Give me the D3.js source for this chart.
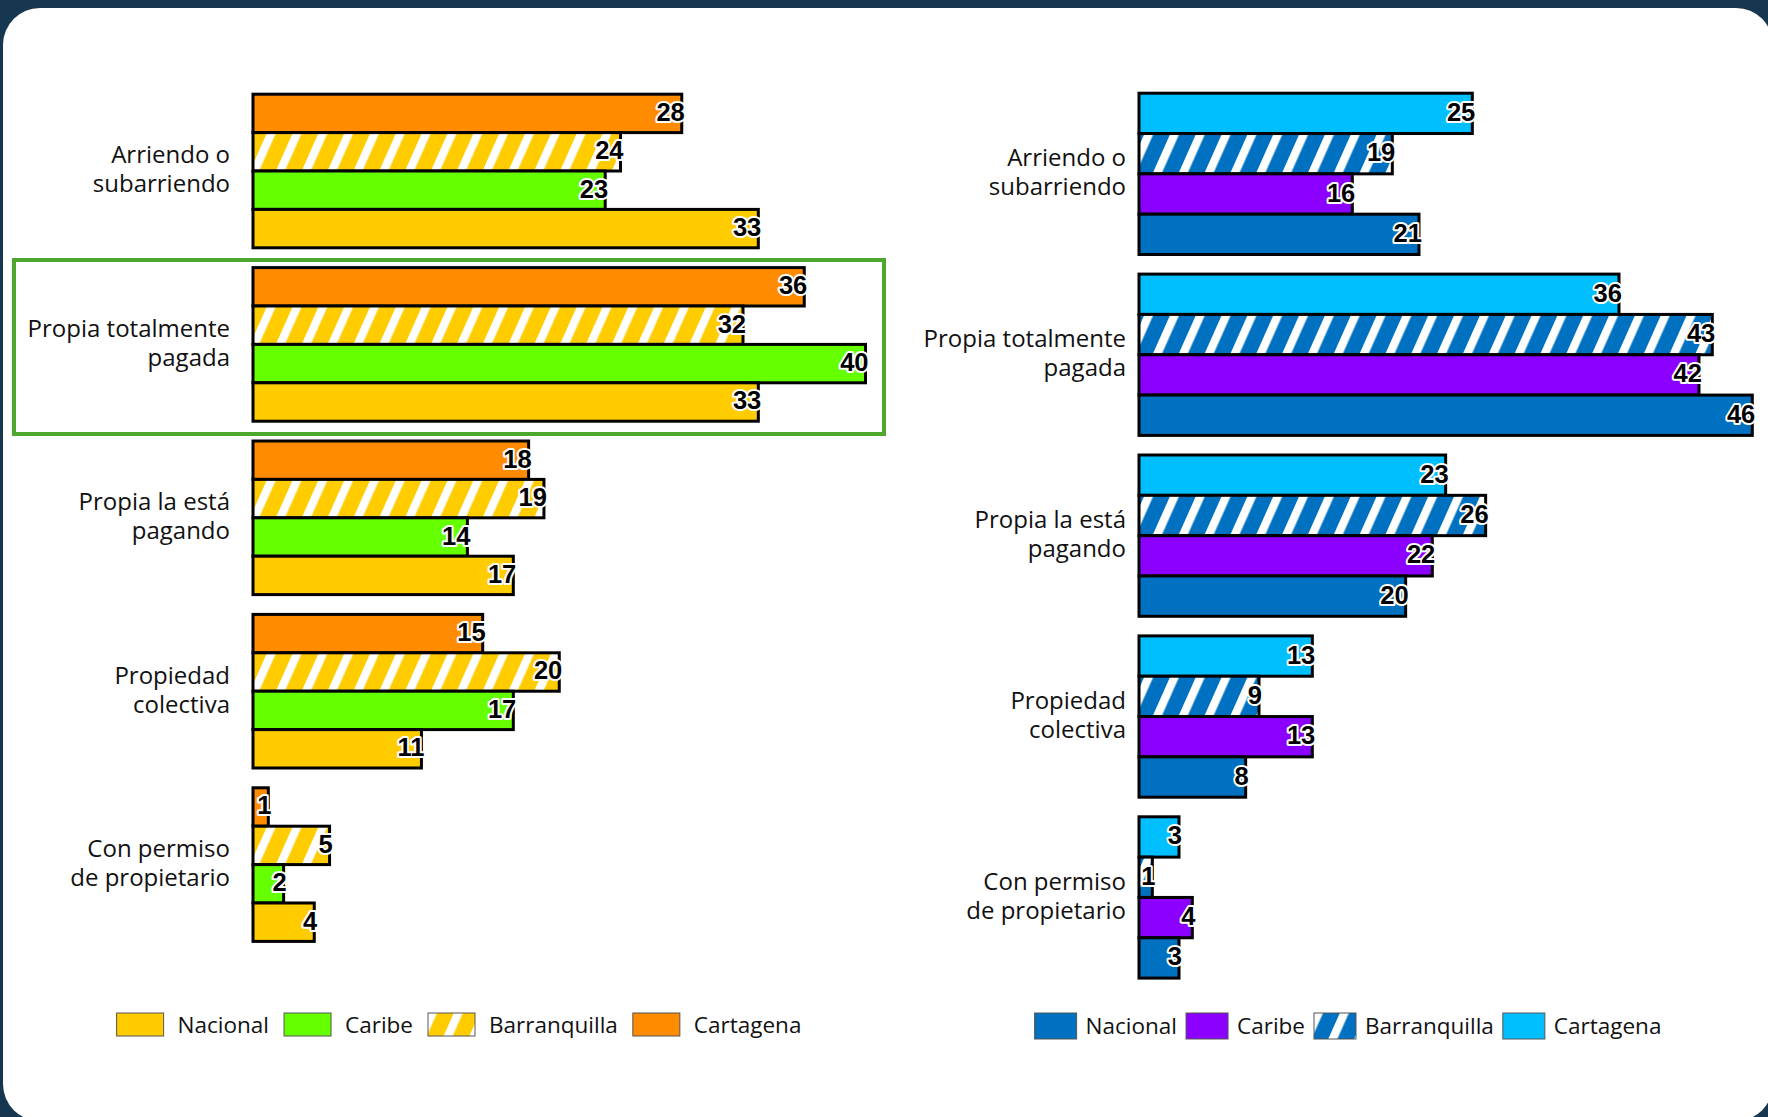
<!DOCTYPE html>
<html><head><meta charset="utf-8">
<script src="https://cdn.jsdelivr.net/npm/d3@7"></script>
<style>
html,body{margin:0;padding:0;background:#17364f;overflow:hidden;}
svg{display:block;}
</style></head><body>
<svg id="c" width="1768" height="1117"></svg>
<script>
// ---------- DATA ----------
const categories = ["Arriendo o subarriendo","Propia totalmente pagada","Propia la está pagando","Propiedad colectiva","Con permiso de propietario"];
const categoryLines = [["Arriendo o","subarriendo"],["Propia totalmente","pagada"],["Propia la está","pagando"],["Propiedad","colectiva"],["Con permiso","de propietario"]];
const seriesNames = ["Nacional","Caribe","Barranquilla","Cartagena"];
const barOrder = ["Cartagena","Barranquilla","Caribe","Nacional"]; // top to bottom inside a group

const leftNacional      = [33,33,17,11,4];
const leftCaribe        = [23,40,14,17,2];
const leftBarranquilla  = [24,32,19,20,5];
const leftCartagena     = [28,36,18,15,1];

const rightNacional     = [21,46,20,8,3];
const rightCaribe       = [16,42,22,13,4];
const rightBarranquilla = [19,43,26,9,1];
const rightCartagena    = [25,36,23,13,3];

const leftColors  = {Nacional:"#FFCC00", Caribe:"#66FF00", Barranquilla:"#FFCC00", Cartagena:"#FF8C00"};
const rightColors = {Nacional:"#0070C0", Caribe:"#8B00FF", Barranquilla:"#0070C0", Cartagena:"#00BFFF"};
const highlighted = "Propia totalmente pagada";

// ---------- SETUP ----------
const svg = d3.select("#c");
const defs = svg.append("defs");
svg.append("rect").attr("x",3).attr("y",8).attr("width",1770).attr("height",1113)
  .attr("rx",37).attr("ry",37).attr("fill","#ffffff");

function makePattern(id, color){
  const s = 23.6;
  const p = defs.append("pattern").attr("id",id).attr("patternUnits","userSpaceOnUse")
    .attr("width",s).attr("height",s).attr("patternTransform","rotate(24)");
  p.append("rect").attr("width",s).attr("height",s).attr("fill",color);
  p.append("rect").attr("x",0).attr("width",8.3).attr("height",s).attr("fill","#ffffff");
}
makePattern("hatchY", leftColors.Barranquilla);
makePattern("hatchB", rightColors.Barranquilla);

const labelFont = "'Open Sans', 'DejaVu Sans', sans-serif";
const valueFont = "'Liberation Sans', Arial, sans-serif";

function build(series) {
  return categories.map((c,i)=>({cat:c, lines:categoryLines[i],
    values: seriesNames.map(s=>({series:s, value:series[s][i]}))}));
}

const panels = [
  {data: build({Nacional:leftNacional, Caribe:leftCaribe, Barranquilla:leftBarranquilla, Cartagena:leftCartagena}),
   colors:leftColors, hatch:"hatchY", x0:253, w:612.5, top:94.2, step:173.4, bw:153.6,
   labelX:230, legendCx:459, legendY:1013, swW:47, swH:23, gapT:14, gapI:15, box:true},
  {data: build({Nacional:rightNacional, Caribe:rightCaribe, Barranquilla:rightBarranquilla, Cartagena:rightCartagena}),
   colors:rightColors, hatch:"hatchB", x0:1139, w:613.3, top:93.2, step:180.9, bw:161.3,
   labelX:1126, legendCx:1348, legendY:1013, swW:42, swH:26, gapT:9, gapI:9, box:false}
];

function fillOf(p, s){ return s==="Barranquilla" ? `url(#${p.hatch})` : p.colors[s]; }

panels.forEach(p=>{
  const maxV = d3.max(p.data, d=>d3.max(d.values, v=>v.value));
  const x = d3.scaleLinear().domain([0,maxV]).range([p.x0, p.x0+p.w]);
  const y = d3.scaleBand().domain(categories)
    .range([p.top, p.top + 4*p.step + p.bw]).paddingInner((p.step-p.bw)/p.step).paddingOuter(0);
  const yi = d3.scaleBand().domain(barOrder).range([0, y.bandwidth()]).padding(0);

  const g = svg.append("g");

  if (p.box) {
    g.append("rect").attr("x",14).attr("y", y(highlighted)-7.6)
      .attr("width", 884-14).attr("height", y.bandwidth()+20.4)
      .attr("fill","none").attr("stroke","#4EA72E").attr("stroke-width",4);
  }

  const groups = g.selectAll("g.grp").data(p.data).join("g")
    .attr("transform", d=>`translate(0,${y(d.cat)})`);

  groups.selectAll("rect.bar").data(d=>barOrder.map(s=>d.values.find(v=>v.series===s))).join("rect")
    .attr("x", x(0)).attr("y", d=>yi(d.series))
    .attr("width", d=>x(d.value)-x(0)).attr("height", yi.bandwidth())
    .attr("fill", d=>fillOf(p,d.series)).attr("stroke","#000").attr("stroke-width",3);

  groups.selectAll("text.val").data(d=>barOrder.map(s=>d.values.find(v=>v.series===s))).join("text")
    .attr("x", d=>x(d.value)+3).attr("y", d=>yi(d.series)+yi.bandwidth()/2+7.5)
    .attr("text-anchor","end").attr("font-family",valueFont).attr("font-weight","bold")
    .attr("font-size",25.5).attr("fill","#000").attr("stroke","#fff").attr("stroke-width",4)
    .attr("stroke-linejoin","round").attr("paint-order","stroke").text(d=>d.value);

  // category labels
  groups.append("text").attr("text-anchor","end").attr("font-family",labelFont)
    .attr("font-size",24).attr("fill","#111")
    .each(function(d){
      const t = d3.select(this);
      d.lines.forEach((ln,k)=>{
        t.append("tspan").attr("x",p.labelX).attr("y", y.bandwidth()/2 - 7.5 + k*29).text(ln);
      });
    });

  // legend
  const lg = svg.append("g");
  const items = lg.selectAll("g").data(seriesNames).join("g");
  items.append("rect").attr("width",p.swW).attr("height",p.swH)
    .attr("fill", s=>fillOf(p,s)).attr("stroke","#555").attr("stroke-width",1);
  const texts = items.append("text").attr("x",p.swW+p.gapT).attr("y",p.swH/2+8)
    .attr("font-family",labelFont).attr("font-size",22.5).attr("fill","#111").text(s=>s);
  let cx = 0;
  const widths = [];
  texts.each(function(){ widths.push(this.getComputedTextLength()); });
  items.each(function(s,i){
    d3.select(this).attr("transform",`translate(${cx},${p.legendY})`);
    cx += p.swW + p.gapT + widths[i] + (i<seriesNames.length-1 ? p.gapI : 0);
  });
  lg.attr("transform",`translate(${p.legendCx - cx/2},0)`);
});
</script>
</body></html>
